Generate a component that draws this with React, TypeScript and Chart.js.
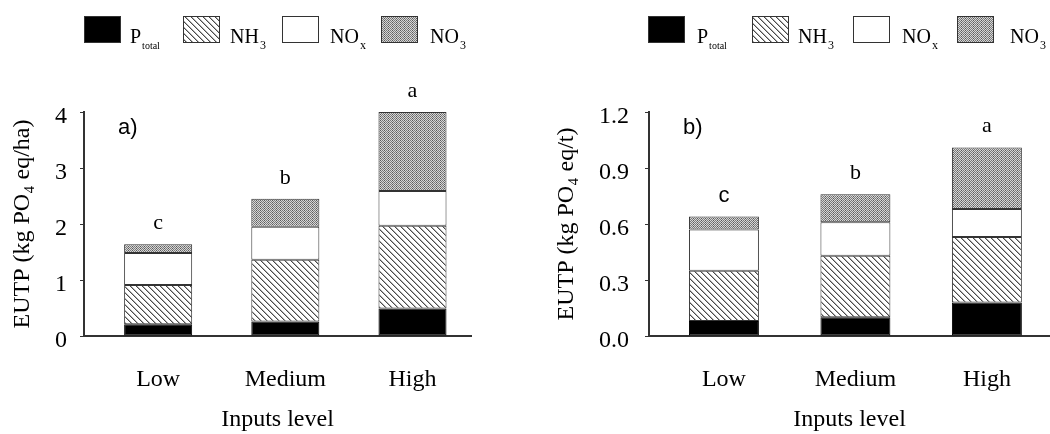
import React, { useEffect, useRef } from 'react';
import { Chart, registerables } from 'chart.js';

Chart.register(...registerables);

const SERIF = '"Liberation Serif", "Times New Roman", serif';
const SANS = '"Liberation Sans", Arial, sans-serif';

// ---------- data ----------
const categories = ['Low', 'Medium', 'High'];
const seriesNames = ['P', 'NH', 'NO', 'NO'];
const seriesSubs = ['total', '3', 'x', '3'];

// panel a) EUTP per hectare
const areaPtotal = [0.21, 0.26, 0.49];
const areaNH3 = [0.70, 1.10, 1.48];
const areaNOx = [0.57, 0.59, 0.62];
const areaNO3 = [0.16, 0.50, 1.41];
const areaLetters = ['c', 'b', 'a'];
const areaTicks = [0, 1, 2, 3, 4];

// panel b) EUTP per tonne
const prodPtotal = [0.08, 0.10, 0.18];
const prodNH3 = [0.27, 0.33, 0.35];
const prodNOx = [0.22, 0.18, 0.15];
const prodNO3 = [0.07, 0.15, 0.33];
const prodLetters = ['c', 'b', 'a'];
const prodTicks = [0, 0.3, 0.6, 0.9, 1.2];

// ---------- panel settings ----------
const panels = [
  {
    tag: 'a)',
    series: [areaPtotal, areaNH3, areaNOx, areaNO3],
    letters: areaLetters,
    letterFonts: [SERIF, SERIF, SERIF],
    ticks: areaTicks,
    decimals: 0,
    yTitle: 'EUTP (kg PO₄ eq/ha)',
    xMin: 0.417,
    xMax: 3.46,
    padRight: 54,
    axisWidth: 84,
    titlePad: 8.6,
    tickPad: 13,
    barPct: 0.535,
    legendBox: [84, 183, 282, 381],
    legendText: [130, 230, 330, 430],
  },
  {
    tag: 'b)',
    series: [prodPtotal, prodNH3, prodNOx, prodNO3],
    letters: prodLetters,
    letterFonts: [SANS, SERIF, SERIF],
    ticks: prodTicks,
    decimals: 1,
    yTitle: 'EUTP (kg PO₄ eq/t)',
    xMin: 0.43,
    xMax: 3.48,
    padRight: 0,
    axisWidth: 124,
    titlePad: 27.6,
    tickPad: 16,
    barPct: 0.532,
    legendBox: [123, 227, 328, 432],
    legendText: [172, 273, 377, 485],
  },
];

// ---------- patterns ----------
function makeHatch(): CanvasPattern | string {
  const c = document.createElement('canvas');
  c.width = 6;
  c.height = 6;
  const g = c.getContext('2d');
  if (!g) return '#ccc';
  g.fillStyle = '#ffffff';
  g.fillRect(0, 0, 6, 6);
  for (let i = 0; i < 6; i++) {
    g.fillStyle = '#4a4a4a';
    g.fillRect(i, i, 1, 1);
    g.fillStyle = '#b0b0b0';
    g.fillRect((i + 1) % 6, i, 1, 1);
  }
  return g.createPattern(c, 'repeat') || '#ccc';
}

function makeDots(): CanvasPattern | string {
  const c = document.createElement('canvas');
  c.width = 4;
  c.height = 4;
  const g = c.getContext('2d');
  if (!g) return '#999';
  for (let y = 0; y < 4; y++) {
    for (let x = 0; x < 4; x++) {
      const dark = (x + y) % 2 === 0;
      g.fillStyle = dark ? ((x + 2 * y) % 4 === 0 ? '#5a5a5a' : '#7a7a7a') : '#d6d6d6';
      g.fillRect(x, y, 1, 1);
    }
  }
  return g.createPattern(c, 'repeat') || '#999';
}

// ---------- decoration plugin (legend, letters, panel tag) ----------
const decoPlugin = {
  id: 'deco',
  afterDatasetsDraw(chart: any, _args: any, opts: any) {
    const ctx = chart.ctx as CanvasRenderingContext2D;
    const area = chart.chartArea;
    const lastMeta = chart.getDatasetMeta(chart.data.datasets.length - 1);
    ctx.save();
    ctx.fillStyle = '#000';
    ctx.textAlign = 'center';
    ctx.textBaseline = 'alphabetic';
    (opts.letters as string[]).forEach((t, i) => {
      const el = lastMeta.data[i];
      if (!el) return;
      ctx.font = `22px ${opts.letterFonts[i]}`;
      ctx.fillText(t, el.x, el.y - 15);
    });
    ctx.textAlign = 'left';
    ctx.font = `22px ${SANS}`;
    ctx.fillText(opts.tag, area.left + 34, area.top + 22);
    ctx.restore();
  },
  afterDraw(chart: any, _args: any, opts: any) {
    const ctx = chart.ctx as CanvasRenderingContext2D;
    ctx.save();
    chart.data.datasets.forEach((ds: any, k: number) => {
      const bx = opts.legendBox[k];
      ctx.fillStyle = ds.backgroundColor;
      ctx.fillRect(bx, 16, 37, 27);
      ctx.strokeStyle = '#333';
      ctx.lineWidth = 1;
      ctx.strokeRect(bx + 0.5, 16.5, 36, 26);
      const tx = opts.legendText[k];
      ctx.fillStyle = '#000';
      ctx.textAlign = 'left';
      ctx.textBaseline = 'alphabetic';
      ctx.font = `20px ${SERIF}`;
      ctx.fillText(seriesNames[k], tx, 43);
      const w = ctx.measureText(seriesNames[k]).width;
      ctx.font = `${seriesSubs[k].length > 1 ? 10 : 12}px ${SERIF}`;
      ctx.fillText(seriesSubs[k], tx + w + 1, 49);
    });
    ctx.restore();
  },
};

function Panel({ p }: { p: any }) {
  const ref = useRef<HTMLCanvasElement>(null);
  useEffect(() => {
    const canvas = ref.current;
    if (!canvas) return;
    const fills = ['#000000', makeHatch(), '#ffffff', makeDots()];
    const borders = ['#000000', '#333333', '#333333', '#333333'];
    const datasets = (p.series as number[][]).map((vals, k) => ({
      label: seriesNames[k] + seriesSubs[k],
      data: categories.map((_, i) => ({ x: i + 1, y: vals[i] })),
      backgroundColor: fills[k],
      borderColor: borders[k],
      borderWidth: 1,
      borderSkipped: false,
      barPercentage: p.barPct,
      categoryPercentage: 1,
    }));
    const chart = new Chart(canvas, {
      type: 'bar',
      data: { datasets } as any,
      plugins: [decoPlugin as any],
      options: {
        responsive: false,
        animation: false,
        devicePixelRatio: 1,
        layout: { padding: { top: 112, right: p.padRight, left: 0, bottom: 0 } },
        plugins: {
          legend: { display: false },
          tooltip: { enabled: false },
          deco: p,
        } as any,
        scales: {
          x: {
            type: 'linear',
            stacked: true,
            offset: false,
            min: p.xMin,
            max: p.xMax,
            afterBuildTicks: (s: any) => {
              s.ticks = categories.map((_, i) => ({ value: i + 1 }));
            },
            afterFit: (s: any) => {
              s.height = 98;
            },
            ticks: {
              callback: (v: any) => categories[Math.round(Number(v)) - 1] ?? '',
              font: { family: SERIF, size: 24 },
              color: '#000',
              padding: 29,
              maxRotation: 0,
              autoSkip: false,
            },
            grid: { display: false, drawTicks: false, offset: false },
            border: { display: true, color: '#333', width: 2 },
            title: {
              display: true,
              text: 'Inputs level',
              font: { family: SERIF, size: 24 },
              color: '#000',
              padding: { top: 0, bottom: 0 },
            },
          },
          y: {
            stacked: true,
            min: 0,
            max: p.ticks[p.ticks.length - 1],
            afterBuildTicks: (s: any) => {
              s.ticks = (p.ticks as number[]).map((v) => ({ value: v }));
            },
            afterFit: (s: any) => {
              s.width = p.axisWidth;
            },
            ticks: {
              callback: (v: any) => Number(v).toFixed(p.decimals),
              font: { family: SERIF, size: 24 },
              color: '#000',
              padding: p.tickPad,
              labelOffset: 5,
            },
            grid: {
              display: true,
              drawOnChartArea: false,
              drawTicks: true,
              tickLength: 4,
              color: '#333',
              lineWidth: 1,
            },
            border: { display: true, color: '#333', width: 2 },
            title: {
              display: true,
              text: p.yTitle,
              font: { family: SERIF, size: 24 },
              color: '#000',
              padding: { top: p.titlePad, bottom: 0 },
            },
          },
        } as any,
      },
    });
    return () => chart.destroy();
  }, [p]);
  return (
    <canvas
      ref={ref}
      width={525}
      height={434}
      style={{ display: 'block', width: 525, height: 434 }}
    />
  );
}

export default function App() {
  return (
    <div
      style={{
        position: 'absolute',
        left: 0,
        top: 0,
        width: 1050,
        height: 434,
        display: 'flex',
        background: '#fff',
      }}
    >
      {panels.map((p, i) => (
        <Panel key={i} p={p} />
      ))}
    </div>
  );
}
